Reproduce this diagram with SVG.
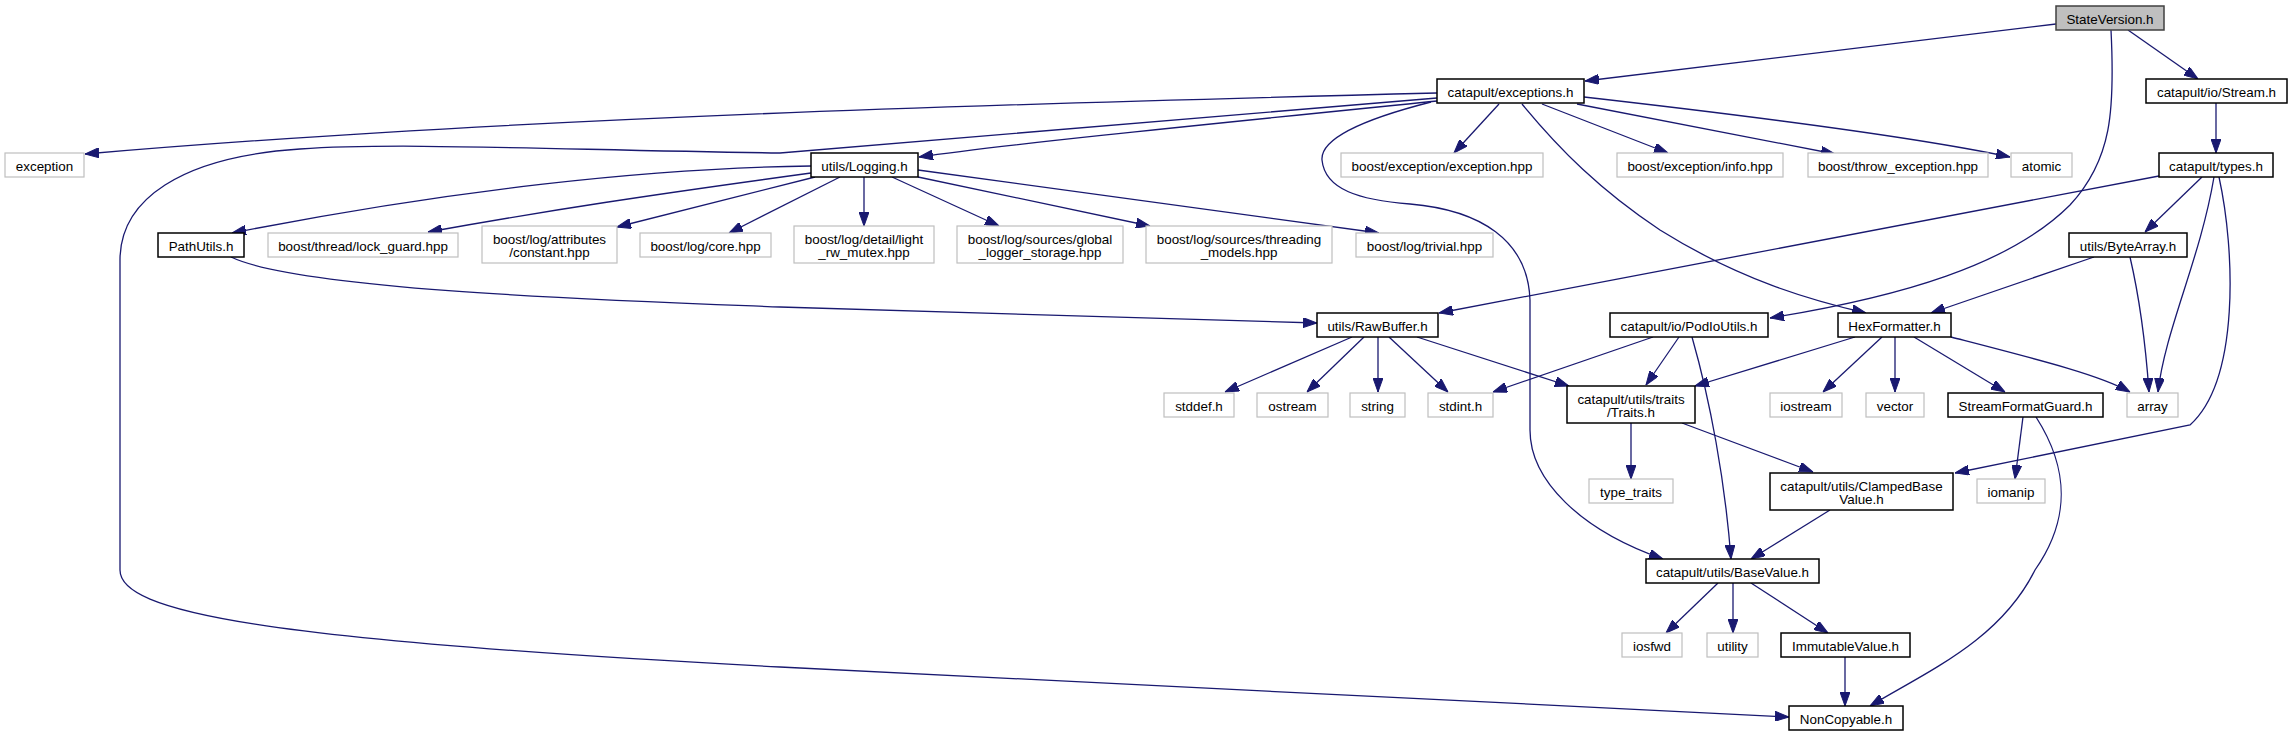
<svg xmlns="http://www.w3.org/2000/svg" width="2292" height="736" viewBox="0 0 2292 736">
<defs>
<marker id="ah" markerUnits="userSpaceOnUse" viewBox="0 0 14 10" refX="14" refY="5" markerWidth="14" markerHeight="10" orient="auto">
<path d="M0,0 L14,5 L0,10 z" fill="#191970" stroke="#191970" stroke-width="1"/>
</marker>
</defs>
<style>
.n rect{fill:#fff;stroke:#000;stroke-width:1.5}
.g rect{fill:#fff;stroke:#bfbfbf;stroke-width:1.2}
.r rect{fill:#bfbfbf;stroke:#404040;stroke-width:1.5}
text{font-family:"Liberation Sans",Arial,Helvetica,sans-serif;font-size:13.4px;fill:#000;text-anchor:middle}
.e path{fill:none;stroke:#191970;stroke-width:1.3;marker-end:url(#ah)}
</style>
<rect width="2292" height="736" fill="#fff"/>
<g class="e" id="edges">
<path d="M2056,24 L1585,81"/>
<path d="M2128,30 L2198,79"/>
<path d="M2111,30 C2115,110 2112,160 2070,205 C2010,265 1900,297 1770,318"/>
<path d="M1437,93 C1000,104 500,118 85,154"/>
<path d="M1437,98 L780,153 C560,150 400,142 300,149 C180,157 120,200 120,260 L120,570 C120,612 260,640 780,667 L1789,717"/>
<path d="M1437,101 C1200,125 1000,145 919,157"/>
<path d="M1499,104 L1454,153"/>
<path d="M1542,104 L1668,153"/>
<path d="M1577,104 L1835,154"/>
<path d="M1584,97 C1760,117 1920,138 2010,157"/>
<path d="M1522,104 C1560,150 1600,190 1660,230 C1740,280 1810,300 1866,313"/>
<path d="M1431,102 C1380,115 1320,135 1322,160 C1325,190 1360,200 1410,204 C1480,210 1528,240 1530,300 L1530,430 C1530,480 1580,530 1663,559"/>
<path d="M811,166 C650,168 450,190 232,233"/>
<path d="M811,173 C650,195 550,210 428,232"/>
<path d="M815,177 L617,227"/>
<path d="M840,177 L729,233"/>
<path d="M864,177 L864,226"/>
<path d="M892,177 L999,226"/>
<path d="M918,177 L1150,226"/>
<path d="M918,170 L1379,233"/>
<path d="M231,257 C300,290 600,300 780,307 C1000,315 1200,320 1317,323"/>
<path d="M2159,176 L1439,313"/>
<path d="M2202,177 L2145,232"/>
<path d="M2214,177 C2200,260 2165,330 2158,392"/>
<path d="M2219,177 C2235,250 2240,380 2190,425 L1955,473"/>
<path d="M2216,103 L2216,153"/>
<path d="M2094,257 L1931,313"/>
<path d="M2130,257 C2140,300 2146,350 2149,392"/>
<path d="M1352,337 L1225,392"/>
<path d="M1364,337 L1307,392"/>
<path d="M1378,337 L1378,392"/>
<path d="M1389,337 L1448,392"/>
<path d="M1417,337 L1569,386"/>
<path d="M1653,337 L1493,392"/>
<path d="M1679,337 L1646,385"/>
<path d="M1692,337 C1710,400 1725,480 1731,559"/>
<path d="M1855,337 L1695,386"/>
<path d="M1882,337 L1823,392"/>
<path d="M1895,337 L1895,392"/>
<path d="M1914,337 L2005,392"/>
<path d="M1951,337 C2040,360 2100,375 2130,392"/>
<path d="M1631,423 L1631,479"/>
<path d="M1682,423 L1813,472"/>
<path d="M2023,417 L2015,479"/>
<path d="M2036,417 C2070,470 2070,520 2035,570 C2000,640 1930,670 1870,706"/>
<path d="M1830,510 L1751,559"/>
<path d="M1718,583 L1666,633"/>
<path d="M1733,583 L1733,633"/>
<path d="M1751,583 L1828,633"/>
<path d="M1845,657 L1845,706"/>
</g>
<g id="StateVersion" class="r"><rect x="2056" y="6" width="108" height="24"/><text x="2110" y="23.5">StateVersion.h</text></g>
<g id="exceptions" class="n"><rect x="1437" y="79" width="147" height="24"/><text x="1510.5" y="96.5">catapult/exceptions.h</text></g>
<g id="Stream" class="n"><rect x="2146" y="79" width="141" height="24"/><text x="2216.5" y="96.5">catapult/io/Stream.h</text></g>
<g id="exception" class="g"><rect x="5" y="153" width="79" height="24"/><text x="44.5" y="170.5">exception</text></g>
<g id="Logging" class="n"><rect x="811" y="153" width="107" height="24"/><text x="864.5" y="170.5">utils/Logging.h</text></g>
<g id="exception_hpp" class="g"><rect x="1341" y="153" width="202" height="24"/><text x="1442" y="170.5">boost/exception/exception.hpp</text></g>
<g id="info_hpp" class="g"><rect x="1617" y="153" width="166" height="24"/><text x="1700" y="170.5">boost/exception/info.hpp</text></g>
<g id="throw_exception" class="g"><rect x="1808" y="153" width="180" height="24"/><text x="1898" y="170.5">boost/throw_exception.hpp</text></g>
<g id="atomic" class="g"><rect x="2011" y="153" width="61" height="24"/><text x="2041.5" y="170.5">atomic</text></g>
<g id="types" class="n"><rect x="2159" y="153" width="114" height="24"/><text x="2216" y="170.5">catapult/types.h</text></g>
<g id="PathUtils" class="n"><rect x="158" y="233" width="86" height="24"/><text x="201" y="250.5">PathUtils.h</text></g>
<g id="lock_guard" class="g"><rect x="268" y="233" width="190" height="24"/><text x="363" y="250.5">boost/thread/lock_guard.hpp</text></g>
<g id="constant" class="g"><rect x="482" y="226" width="135" height="37"/><text x="549.5" y="243.5">boost/log/attributes</text><text x="549.5" y="257">/constant.hpp</text></g>
<g id="core" class="g"><rect x="640" y="233" width="131" height="24"/><text x="705.5" y="250.5">boost/log/core.hpp</text></g>
<g id="light_rw_mutex" class="g"><rect x="794" y="226" width="140" height="37"/><text x="864" y="243.5">boost/log/detail/light</text><text x="864" y="257">_rw_mutex.hpp</text></g>
<g id="global_logger_storage" class="g"><rect x="957" y="226" width="166" height="37"/><text x="1040" y="243.5">boost/log/sources/global</text><text x="1040" y="257">_logger_storage.hpp</text></g>
<g id="threading_models" class="g"><rect x="1146" y="226" width="186" height="37"/><text x="1239" y="243.5">boost/log/sources/threading</text><text x="1239" y="257">_models.hpp</text></g>
<g id="trivial" class="g"><rect x="1356" y="233" width="137" height="24"/><text x="1424.5" y="250.5">boost/log/trivial.hpp</text></g>
<g id="ByteArray" class="n"><rect x="2069" y="233" width="118" height="24"/><text x="2128" y="250.5">utils/ByteArray.h</text></g>
<g id="RawBuffer" class="n"><rect x="1317" y="313" width="121" height="24"/><text x="1377.5" y="330.5">utils/RawBuffer.h</text></g>
<g id="PodIoUtils" class="n"><rect x="1610" y="313" width="158" height="24"/><text x="1689" y="330.5">catapult/io/PodIoUtils.h</text></g>
<g id="HexFormatter" class="n"><rect x="1838" y="313" width="113" height="24"/><text x="1894.5" y="330.5">HexFormatter.h</text></g>
<g id="stddef" class="g"><rect x="1164" y="393" width="70" height="24"/><text x="1199" y="410.5">stddef.h</text></g>
<g id="ostream" class="g"><rect x="1257" y="393" width="71" height="24"/><text x="1292.5" y="410.5">ostream</text></g>
<g id="string" class="g"><rect x="1350" y="393" width="55" height="24"/><text x="1377.5" y="410.5">string</text></g>
<g id="stdint" class="g"><rect x="1428" y="393" width="65" height="24"/><text x="1460.5" y="410.5">stdint.h</text></g>
<g id="Traits" class="n"><rect x="1567" y="386" width="128" height="37"/><text x="1631" y="403.5">catapult/utils/traits</text><text x="1631" y="417">/Traits.h</text></g>
<g id="iostream" class="g"><rect x="1770" y="393" width="72" height="24"/><text x="1806" y="410.5">iostream</text></g>
<g id="vector" class="g"><rect x="1866" y="393" width="58" height="24"/><text x="1895" y="410.5">vector</text></g>
<g id="StreamFormatGuard" class="n"><rect x="1948" y="393" width="155" height="24"/><text x="2025.5" y="410.5">StreamFormatGuard.h</text></g>
<g id="array" class="g"><rect x="2127" y="393" width="51" height="24"/><text x="2152.5" y="410.5">array</text></g>
<g id="type_traits" class="g"><rect x="1589" y="479" width="84" height="24"/><text x="1631" y="496.5">type_traits</text></g>
<g id="ClampedBaseValue" class="n"><rect x="1770" y="473" width="183" height="37"/><text x="1861.5" y="490.5">catapult/utils/ClampedBase</text><text x="1861.5" y="504">Value.h</text></g>
<g id="iomanip" class="g"><rect x="1977" y="479" width="68" height="24"/><text x="2011" y="496.5">iomanip</text></g>
<g id="BaseValue" class="n"><rect x="1646" y="559" width="173" height="24"/><text x="1732.5" y="576.5">catapult/utils/BaseValue.h</text></g>
<g id="iosfwd" class="g"><rect x="1622" y="633" width="60" height="24"/><text x="1652" y="650.5">iosfwd</text></g>
<g id="utility" class="g"><rect x="1707" y="633" width="51" height="24"/><text x="1732.5" y="650.5">utility</text></g>
<g id="ImmutableValue" class="n"><rect x="1781" y="633" width="129" height="24"/><text x="1845.5" y="650.5">ImmutableValue.h</text></g>
<g id="NonCopyable" class="n"><rect x="1789" y="706" width="114" height="24"/><text x="1846" y="723.5">NonCopyable.h</text></g>
</svg>
